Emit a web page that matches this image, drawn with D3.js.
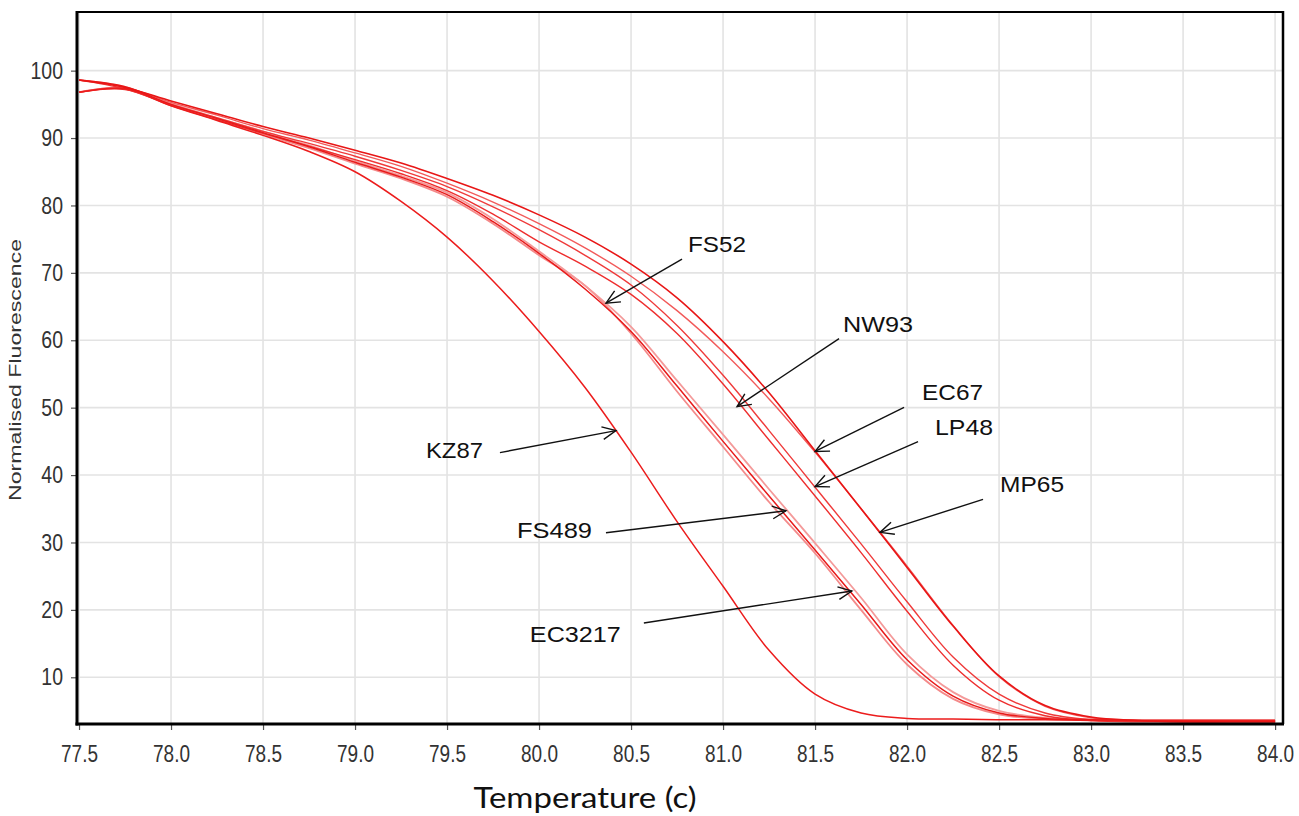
<!DOCTYPE html>
<html><head><meta charset="utf-8">
<script src="https://cdn.jsdelivr.net/npm/d3@7"></script>
<style>body{margin:0;background:#fff}svg{display:block}</style>
</head><body><svg id="c" width="1299" height="816"></svg>
<script>
// ---------- data ----------
const temps = [77.5,77.75,78.0,78.25,78.5,78.75,79.0,79.25,79.5,79.75,80.0,80.25,80.5,80.75,81.0,81.25,81.5,81.75,82.0,82.25,82.5,82.75,83.0,83.25,83.5,83.75,84.0];
const KZ87   = [96.8,97.3,94.8,92.6,90.4,88.0,85.0,80.6,75.3,68.8,61.3,53.0,43.4,33.1,23.5,14.0,7.5,4.7,3.9,3.8,3.7,3.7,3.6,3.6,3.6,3.6,3.6];
const FS52   = [96.8,97.4,94.9,92.8,90.6,88.5,86.2,84.0,81.3,77.3,72.6,68.1,61.0,52.4,44.2,36.0,28.4,20.0,11.9,6.8,4.5,3.8,3.7,3.6,3.6,3.6,3.6];
const FS489  = [98.6,97.6,95.0,92.9,90.8,88.7,86.4,84.2,81.6,77.6,72.9,67.6,61.3,53.2,45.0,36.9,28.9,20.8,12.6,7.2,4.7,3.9,3.7,3.6,3.6,3.6,3.6];
const EC3217 = [98.6,97.6,95.1,93.0,91.0,88.9,86.6,84.4,81.9,78.0,73.2,68.1,62.0,54.0,46.0,37.9,29.9,21.8,13.4,7.8,5.0,4.0,3.8,3.6,3.6,3.6,3.6];
const NW93   = [96.8,97.2,94.8,92.7,90.7,88.8,86.8,84.7,82.2,78.7,74.6,71.0,66.8,61.0,53.5,45.2,36.9,28.5,19.8,11.8,6.6,4.3,3.6,3.4,3.4,3.4,3.4];
const LP48   = [98.6,97.3,95.0,93.0,91.0,89.2,87.3,85.2,82.8,79.8,76.4,72.6,68.2,62.2,54.8,46.6,38.2,29.8,21.2,13.0,7.5,4.7,3.7,3.5,3.4,3.4,3.4];
const EC67   = [96.8,97.4,95.3,93.4,91.4,89.7,87.8,85.8,83.3,80.5,77.3,73.7,69.5,64.4,58.3,51.3,43.4,35.0,26.5,17.7,10.1,5.7,4.0,3.6,3.4,3.4,3.4];
const MP65   = [98.6,97.5,95.5,93.6,91.7,90.0,88.2,86.3,84.0,81.5,78.6,75.3,71.3,66.3,59.8,52.2,43.6,35.0,26.3,17.6,10.2,5.8,4.1,3.6,3.4,3.4,3.4];
const seriesNames = ["FS52","EC3217","EC67","NW93","LP48","FS489","KZ87","MP65"];
const seriesValues = {KZ87, FS52, FS489, EC3217, NW93, LP48, EC67, MP65};
const xTicks = [77.5,78.0,78.5,79.0,79.5,80.0,80.5,81.0,81.5,82.0,82.5,83.0,83.5,84.0];
const yTicks = [10,20,30,40,50,60,70,80,90,100];
const xTitle = "Temperature (c)";
const yTitle = "Normalised Fluorescence";
// annotation labels with arrow tips in data coords
const annLabels = ["FS52","NW93","EC67","LP48","MP65","KZ87","FS489","EC3217"];
const annTipX   = [80.364,81.076,81.5,81.5,81.853,80.418,81.342,81.70];
const annTipY   = [65.5,50.15,43.5,38.3,31.5,46.6,34.7,22.8];

// ---------- layout / style ----------
const annLayout = {
  FS52:{tail:[76,-44],text:[82,-51],w:58},
  NW93:{tail:[102,-68],text:[106,-75],w:70},
  EC67:{tail:[89,-44],text:[107,-51],w:61},
  LP48:{tail:[103,-45],text:[120,-52],w:58},
  MP65:{tail:[103,-33],text:[120,-40],w:64},
  KZ87:{tail:[-116,22],text:[-190,27],w:57},
  FS489:{tail:[-180,22],text:[-269,27],w:75},
  EC3217:{tail:[-208,32],text:[-322,51],w:91}
};
const lineStyle = {
  KZ87:{c:"#ec1c1c",w:1.5}, FS52:{c:"#f48a8a",w:1.8}, FS489:{c:"#e81a1a",w:1.5},
  EC3217:{c:"#f49a9a",w:1.8}, NW93:{c:"#ee2e2e",w:1.4}, LP48:{c:"#ef3a3a",w:1.4},
  EC67:{c:"#f25a5a",w:1.4}, MP65:{c:"#e81616",w:1.6}
};

const svg = d3.select("#c");
const x = d3.scaleLinear().domain([77.489, 84.043]).range([77, 1283]);
const y = d3.scaleLinear().domain([3.07, 108.7]).range([724, 12]);
const [L, R] = x.range(), [B, T] = y.range();

// grid
const grid = svg.append("g").attr("stroke","#e3e3e3").attr("stroke-width",1.6);
grid.selectAll("line.v").data(xTicks).join("line")
  .attr("x1",d=>x(d)).attr("x2",d=>x(d)).attr("y1",T).attr("y2",B);
grid.selectAll("line.h").data(yTicks).join("line")
  .attr("y1",d=>y(d)).attr("y2",d=>y(d)).attr("x1",L).attr("x2",R);

// lines
svg.append("clipPath").attr("id","clip").append("rect")
  .attr("x",L).attr("y",T).attr("width",R-L).attr("height",B-T);
const line = d3.line().x((d,i)=>x(temps[i])).y(d=>y(d)).curve(d3.curveCatmullRom.alpha(0.5));
svg.append("g").attr("clip-path","url(#clip)").selectAll("path").data(seriesNames).join("path")
  .attr("d",n=>line(seriesValues[n])).attr("fill","none")
  .attr("stroke",n=>lineStyle[n].c).attr("stroke-width",n=>lineStyle[n].w)
  .attr("stroke-linejoin","round");

// axes
const fontTick = "'Liberation Sans', Arial, sans-serif";
const xAxis = svg.append("g").attr("transform",`translate(0,${B})`)
  .call(d3.axisBottom(x).tickValues(xTicks).tickFormat(d3.format(".1f")).tickSize(6).tickSizeOuter(0));
xAxis.select(".domain").remove();
xAxis.selectAll(".tick line").attr("stroke","#555").attr("stroke-width",1.2);
xAxis.selectAll(".tick text").attr("y",null).attr("dy",null)
  .attr("transform","translate(0,38) scale(1,1.22)")
  .attr("font-family",fontTick).attr("font-size",19).attr("fill","#333");

const yAxis = svg.append("g").attr("transform",`translate(${L},0)`)
  .call(d3.axisLeft(y).tickValues(yTicks).tickSize(6).tickSizeOuter(0));
yAxis.select(".domain").remove();
yAxis.selectAll(".tick line").attr("stroke","#555").attr("stroke-width",1.2);
yAxis.selectAll(".tick text").attr("x",null).attr("dy",null)
  .attr("transform","translate(-14,7.6) scale(1,1.2)")
  .attr("font-family",fontTick).attr("font-size",19.5).attr("fill","#333");

// frame
svg.append("line").attr("x1",L).attr("x2",R).attr("y1",T).attr("y2",T).attr("stroke","#000").attr("stroke-width",2);
svg.append("line").attr("x1",R).attr("x2",R).attr("y1",T-1).attr("y2",B).attr("stroke","#000").attr("stroke-width",2.5);
svg.append("line").attr("x1",L).attr("x2",L).attr("y1",T-1).attr("y2",B+1.5).attr("stroke","#000").attr("stroke-width",3);
svg.append("line").attr("x1",L-1.5).attr("x2",R+1).attr("y1",B).attr("y2",B).attr("stroke","#000").attr("stroke-width",3);

// titles
svg.append("text").attr("transform","translate(21,370) rotate(-90)")
  .attr("text-anchor","middle").attr("font-family",fontTick).attr("font-size",16)
  .attr("textLength",262).attr("lengthAdjust","spacingAndGlyphs")
  .attr("fill","#333").text(yTitle);
svg.append("text").attr("x",585).attr("y",808).attr("text-anchor","middle")
  .attr("font-family","Lato, 'Open Sans', sans-serif").attr("font-size",28)
  .attr("textLength",223).attr("lengthAdjust","spacingAndGlyphs")
  .attr("fill","#111").text(xTitle);

// annotations
const ann = svg.append("g").attr("stroke","#111").attr("stroke-width",1.4).attr("fill","none");
annLabels.forEach((lab,i)=>{
  const tx = x(annTipX[i]), ty = y(annTipY[i]);
  const lay = annLayout[lab];
  const ex = tx+lay.tail[0], ey = ty+lay.tail[1];
  ann.append("line").attr("x1",ex).attr("y1",ey).attr("x2",tx).attr("y2",ty);
  const ang = Math.atan2(ey-ty, ex-tx), a = 25*Math.PI/180, len = 15;
  ann.append("path").attr("d",
    `M${tx+len*Math.cos(ang+a)},${ty+len*Math.sin(ang+a)}L${tx},${ty}L${tx+len*Math.cos(ang-a)},${ty+len*Math.sin(ang-a)}`);
  svg.append("text").attr("x",tx+lay.text[0]).attr("y",ty+lay.text[1])
    .attr("font-family",fontTick).attr("font-size",22.5).attr("fill","#111")
    .attr("textLength",lay.w).attr("lengthAdjust","spacingAndGlyphs").text(lab);
});
</script></body></html>
